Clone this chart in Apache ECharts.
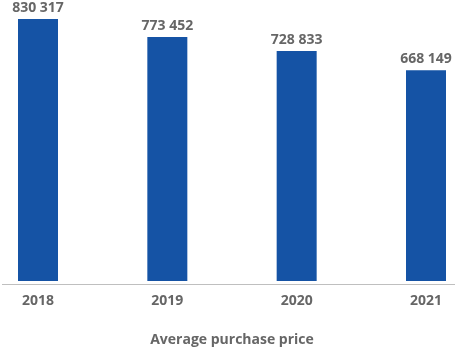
<!DOCTYPE html>
<html><head><meta charset="utf-8">
<script src="https://cdn.jsdelivr.net/npm/echarts@6/dist/echarts.min.js"></script>
<style>html,body{margin:0;padding:0;background:#fff}#c{width:465px;height:352px}</style>
</head><body><div id="c"></div>
<script>
const categories = ['2018', '2019', '2020', '2021'];
const values = [830317, 773452, 728833, 668149];
const title = 'Average purchase price';

function fmt(v){ return String(v).replace(/\B(?=(\d{3})+(?!\d))/g, ' '); }

const chart = echarts.init(document.getElementById('c'), null, {renderer:'canvas'});
const gridTop = 19, gridBottom = 352 - 284;
chart.setOption({
  animation: false,
  grid: { left: 38, right: 39, top: gridTop, bottom: gridBottom, containLabel: false },
  xAxis: {
    type: 'category', data: categories, boundaryGap: false,
    axisLine: { show: false }, axisTick: { show: false },
    axisLabel: { color: '#666', fontFamily: 'Open Sans', fontWeight: 'bold', fontSize: 14, margin: 13 },
    name: title, nameLocation: 'middle', nameGap: 52,
    nameTextStyle: { color: '#666', fontFamily: 'Open Sans', fontWeight: 'bold', fontSize: 14 }
  },
  yAxis: { type: 'value', min: 0, max: 830317, show: false, splitLine: { show: false } },
  graphic: [{
    type: 'line', shape: { x1: 2, y1: 284.5, x2: 455, y2: 284.5 },
    style: { stroke: '#bfbfbf', lineWidth: 1 }, z: 10
  }],
  series: [{
    type: 'bar', data: values, barWidth: 40,
    itemStyle: { color: '#1553a5' },
    label: { show: true, position: 'top', distance: 4, formatter: p => fmt(p.value),
      color: '#666', fontFamily: 'Open Sans', fontWeight: 'bold', fontSize: 14 }
  }]
});
</script></body></html>
